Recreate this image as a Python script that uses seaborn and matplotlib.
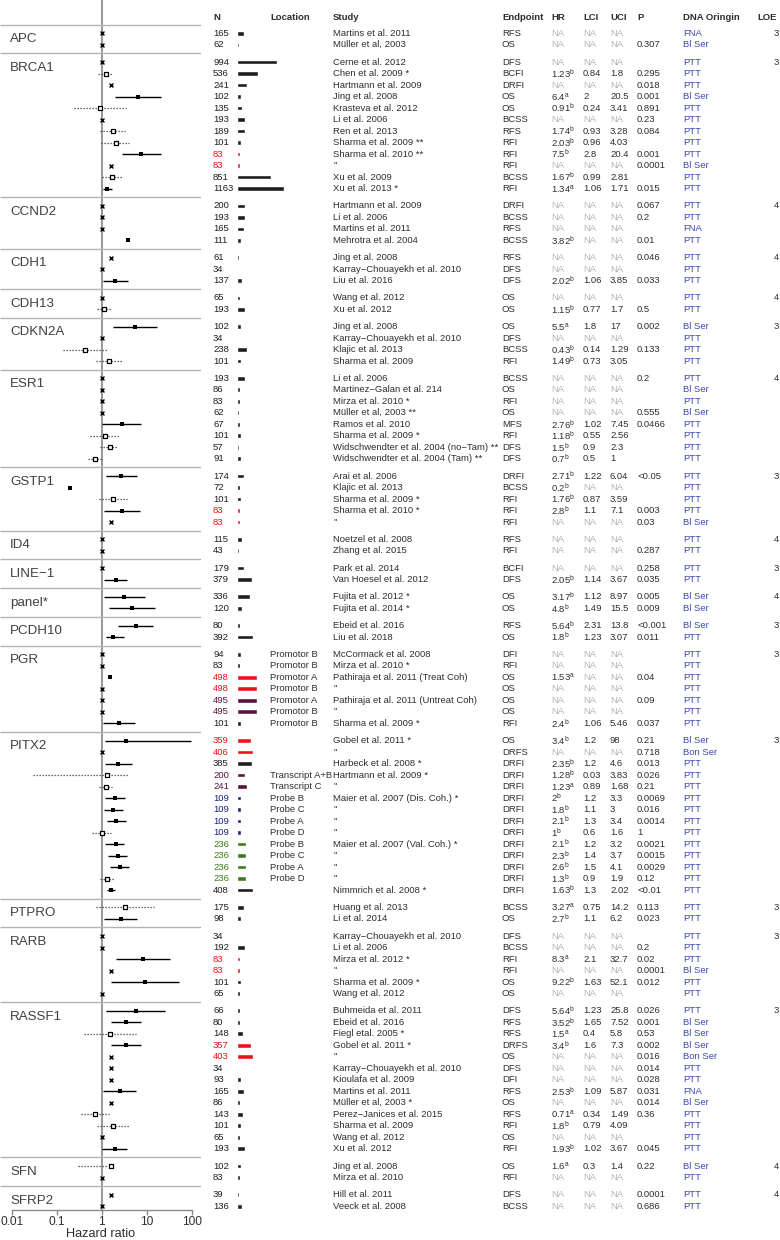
import numpy as np
import pandas as pd
import matplotlib
matplotlib.use('Agg')
import matplotlib.pyplot as plt
from matplotlib.ticker import NullLocator
import seaborn as sns

# ---- data -------------------------------------------------------------
genes = ['APC', 'BRCA1', 'CCND2', 'CDH1', 'CDH13', 'CDKN2A', 'ESR1', 'GSTP1', 'ID4',
         'LINE\u22121', 'panel*', 'PCDH10', 'PGR', 'PITX2', 'PTPRO', 'RARB', 'RASSF1',
         'SFN', 'SFRP2']
group_sizes = [2, 12, 4, 3, 2, 4, 8, 5, 2, 2, 2, 2, 7, 14, 2, 6, 13, 2, 2]
loe = [3, 3, 4, 4, 4, 3, 4, 3, 4, 3, 4, 3, 3, 3, 3, 3, 3, 4, 4]

n_pat = [165, 62,
         994, 536, 241, 102, 135, 193, 189, 101, 83, 83, 851, 1163,
         200, 193, 165, 111,
         61, 34, 137,
         65, 193,
         102, 34, 238, 101,
         193, 86, 83, 62, 67, 101, 57, 91,
         174, 72, 101, 83, 83,
         115, 43,
         179, 379,
         336, 120,
         80, 392,
         94, 83, 498, 498, 495, 495, 101,
         359, 406, 385, 200, 241, 109, 109, 109, 109, 236, 236, 236, 236, 408,
         175, 98,
         34, 192, 83, 83, 101, 65,
         66, 80, 148, 357, 403, 34, 93, 165, 86, 143, 101, 65, 193,
         102, 83,
         39, 136]

# cohort colour key per row (k = none, r/p/b/g = cohorts)
cohort = (['k'] * 2 +
          ['k'] * 8 + ['r', 'r', 'k', 'k'] +
          ['k'] * 4 + ['k'] * 3 + ['k'] * 2 + ['k'] * 4 + ['k'] * 8 +
          ['k', 'k', 'k', 'r', 'r'] +
          ['k'] * 8 +
          ['k', 'k', 'r', 'r', 'p', 'p', 'k'] +
          ['r', 'r', 'k', 'p', 'p', 'b', 'b', 'b', 'b', 'g', 'g', 'g', 'g', 'k'] +
          ['k'] * 2 +
          ['k', 'k', 'r', 'r', 'k', 'k'] +
          ['k', 'k', 'k', 'r', 'r'] + ['k'] * 8 +
          ['k'] * 4)

location = ([''] * 48 +
            ['Promotor B', 'Promotor B', 'Promotor A', 'Promotor B', 'Promotor A',
             'Promotor B', 'Promotor B'] +
            ['', '', '', 'Transcript A+B', 'Transcript C', 'Probe B', 'Probe C',
             'Probe A', 'Probe D', 'Probe B', 'Probe C', 'Probe A', 'Probe D', ''] +
            [''] * 25)

M = '\u2212'
study = [
    'Martins et al. 2011', 'M\u00fcller et al, 2003',
    'Cerne et al. 2012', 'Chen et al. 2009 *', 'Hartmann et al. 2009', 'Jing et al. 2008',
    'Krasteva et al. 2012', 'Li et al. 2006', 'Ren et al. 2013', 'Sharma et al. 2009 **',
    'Sharma et al. 2010 **', '"', 'Xu et al. 2009', 'Xu et al. 2013 *',
    'Hartmann et al. 2009', 'Li et al. 2006', 'Martins et al. 2011', 'Mehrotra et al. 2004',
    'Jing et al. 2008', f'Karray{M}Chouayekh et al. 2010', 'Liu et al. 2016',
    'Wang et al. 2012', 'Xu et al. 2012',
    'Jing et al. 2008', f'Karray{M}Chouayekh et al. 2010', 'Klajic et al. 2013', 'Sharma et al. 2009',
    'Li et al. 2006', f'Martinez{M}Galan et al. 214', 'Mirza et al. 2010 *',
    'M\u00fcller et al, 2003 **', 'Ramos et al. 2010', 'Sharma et al. 2009 *',
    f'Widschwendter et al. 2004 (no{M}Tam) **', 'Widschwendter et al. 2004 (Tam) **',
    'Arai et al. 2006', 'Klajic et al. 2013', 'Sharma et al. 2009 *', 'Sharma et al. 2010 *', '"',
    'Noetzel et al. 2008', 'Zhang et al. 2015',
    'Park et al. 2014', 'Van Hoesel et al. 2012',
    'Fujita et al. 2012 *', 'Fujita et al. 2014 *',
    'Ebeid et al. 2016', 'Liu et al. 2018',
    'McCormack et al. 2008', 'Mirza et al. 2010 *', 'Pathiraja et al. 2011 (Treat Coh)', '"',
    'Pathiraja et al. 2011 (Untreat Coh)', '"', 'Sharma et al. 2009 *',
    'Gobel et al. 2011 *', '"', 'Harbeck et al. 2008 *', 'Hartmann et al. 2009 *', '"',
    'Maier et al. 2007 (Dis. Coh.) *', '"', '"', '"', 'Maier et al. 2007 (Val. Coh.) *',
    '"', '"', '"', 'Nimmrich et al. 2008 *',
    'Huang et al. 2013', 'Li et al. 2014',
    f'Karray{M}Chouayekh et al. 2010', 'Li et al. 2006', 'Mirza et al. 2012 *', '"',
    'Sharma et al. 2009 *', 'Wang et al. 2012',
    'Buhmeida et al. 2011', 'Ebeid et al. 2016', 'Fiegl etal. 2005 *', 'Gobel et al. 2011 *', '"',
    f'Karray{M}Chouayekh et al. 2010', 'Kioulafa et al. 2009', 'Martins et al. 2011',
    'M\u00fcller et al, 2003 *', f'Perez{M}Janices et al. 2015', 'Sharma et al. 2009',
    'Wang et al. 2012', 'Xu et al. 2012',
    'Jing et al. 2008', 'Mirza et al. 2010',
    'Hill et al. 2011', 'Veeck et al. 2008',
]

endpoint = [
    'RFS', 'OS',
    'DFS', 'BCFI', 'DRFI', 'OS', 'OS', 'BCSS', 'RFS', 'RFI', 'RFI', 'RFI', 'BCSS', 'RFI',
    'DRFI', 'BCSS', 'RFS', 'BCSS',
    'RFS', 'DFS', 'DFS',
    'OS', 'OS',
    'OS', 'DFS', 'BCSS', 'RFI',
    'BCSS', 'OS', 'RFI', 'OS', 'MFS', 'RFI', 'DFS', 'DFS',
    'DRFI', 'BCSS', 'RFI', 'RFI', 'RFI',
    'RFS', 'RFI',
    'BCFI', 'DFS',
    'OS', 'OS',
    'RFS', 'OS',
    'DFI', 'RFI', 'OS', 'OS', 'OS', 'OS', 'RFI',
    'OS', 'DRFS'] + ['DRFI'] * 12 + [
    'BCSS', 'OS',
    'DFS', 'BCSS', 'RFI', 'RFI', 'OS', 'OS',
    'DFS', 'RFS', 'RFS', 'DRFS', 'OS', 'DFS', 'DFI', 'RFS', 'OS', 'RFS', 'RFI', 'OS', 'RFI',
    'OS', 'RFI',
    'DFS', 'BCSS',
]

N = None
hr = [N, N,
      N, 1.23, N, 6.4, 0.91, N, 1.74, 2.03, 7.5, N, 1.67, 1.34,
      N, N, N, 3.82,
      N, N, 2.02,
      N, 1.15,
      5.5, N, 0.43, 1.49,
      N, N, N, N, 2.76, 1.18, 1.5, 0.7,
      2.71, 0.2, 1.76, 2.8, N,
      N, N,
      N, 2.05,
      3.17, 4.8,
      5.64, 1.8,
      N, N, 1.53, N, N, N, 2.4,
      3.4, N, 2.35, 1.28, 1.23, 2, 1.8, 2.1, 1, 2.1, 2.3, 2.6, 1.3, 1.63,
      3.27, 2.7,
      N, N, 8.3, N, 9.22, N,
      5.64, 3.52, 1.5, 3.4, N, N, N, 2.53, N, 0.71, 1.8, N, 1.93,
      1.6, N,
      N, N]

hr_sup = ['', '',
          '', 'b', '', 'a', 'b', '', 'b', 'b', 'b', '', 'b', 'a',
          '', '', '', 'b',
          '', '', 'b',
          '', 'b',
          'a', '', 'b', 'b',
          '', '', '', '', 'b', 'b', 'b', 'b',
          'b', 'b', 'b', 'b', '',
          '', '',
          '', 'b',
          'b', 'b',
          'b', 'b',
          '', '', 'a', '', '', '', 'b',
          'b', '', 'b', 'b', 'a', 'b', 'b', 'b', 'b', 'b', 'b', 'b', 'b', 'b',
          'a', 'b',
          '', '', 'a', '', 'b', '',
          'b', 'b', 'a', 'b', '', '', '', 'b', '', 'a', 'b', '', 'b',
          'a', '',
          '', '']

lci = [N, N,
       N, 0.84, N, 2, 0.24, N, 0.93, 0.96, 2.8, N, 0.99, 1.06,
       N, N, N, N,
       N, N, 1.06,
       N, 0.77,
       1.8, N, 0.14, 0.73,
       N, N, N, N, 1.02, 0.55, 0.9, 0.5,
       1.22, N, 0.87, 1.1, N,
       N, N,
       N, 1.14,
       1.12, 1.49,
       2.31, 1.23,
       N, N, N, N, N, N, 1.06,
       1.2, N, 1.2, 0.03, 0.89, 1.2, 1.1, 1.3, 0.6, 1.2, 1.4, 1.5, 0.9, 1.3,
       0.75, 1.1,
       N, N, 2.1, N, 1.63, N,
       1.23, 1.65, 0.4, 1.6, N, N, N, 1.09, N, 0.34, 0.79, N, 1.02,
       0.3, N,
       N, N]

uci = [N, N,
       N, 1.8, N, 20.5, 3.41, N, 3.28, 4.03, 20.4, N, 2.81, 1.71,
       N, N, N, N,
       N, N, 3.85,
       N, 1.7,
       17, N, 1.29, 3.05,
       N, N, N, N, 7.45, 2.56, 2.3, 1,
       6.04, N, 3.59, 7.1, N,
       N, N,
       N, 3.67,
       8.97, 15.5,
       13.8, 3.07,
       N, N, N, N, N, N, 5.46,
       98, N, 4.6, 3.83, 1.68, 3.3, 3, 3.4, 1.6, 3.2, 3.7, 4.1, 1.9, 2.02,
       14.2, 6.2,
       N, N, 32.7, N, 52.1, N,
       25.8, 7.52, 5.8, 7.3, N, N, N, 5.87, N, 1.49, 4.09, N, 3.67,
       1.4, N,
       N, N]

p_val = ['', '0.307',
         '', '0.295', '0.018', '0.001', '0.891', '0.23', '0.084', '', '0.001', '0.0001', '', '0.015',
         '0.067', '0.2', '', '0.01',
         '0.046', '', '0.033',
         '', '0.5',
         '0.002', '', '0.133', '',
         '0.2', '', '', '0.555', '0.0466', '', '', '',
         '<0.05', '', '', '0.003', '0.03',
         '', '0.287',
         '0.258', '0.035',
         '0.005', '0.009',
         '<0.001', '0.011',
         '', '', '0.04', '', '0.09', '', '0.037',
         '0.21', '0.718', '0.013', '0.026', '0.21', '0.0069', '0.016', '0.0014', '1',
         '0.0021', '0.0015', '0.0029', '0.12', '<0.01',
         '0.113', '0.023',
         '', '0.2', '0.02', '0.0001', '0.012', '',
         '0.026', '0.001', '0.53', '0.002', '0.016', '0.014', '0.028', '0.031', '0.014',
         '0.36', '', '', '0.045',
         '0.22', '',
         '0.0001', '0.686']

dna = ['FNA', 'Bl Ser',
       'PTT', 'PTT', 'PTT', 'Bl Ser', 'PTT', 'PTT', 'PTT', 'PTT', 'PTT', 'Bl Ser', 'PTT', 'PTT',
       'PTT', 'PTT', 'FNA', 'PTT',
       'PTT', 'PTT', 'PTT',
       'PTT', 'PTT',
       'Bl Ser', 'PTT', 'PTT', 'PTT',
       'PTT', 'Bl Ser', 'PTT', 'Bl Ser', 'PTT', 'PTT', 'PTT', 'PTT',
       'PTT', 'PTT', 'PTT', 'PTT', 'Bl Ser',
       'PTT', 'PTT',
       'PTT', 'PTT',
       'Bl Ser', 'Bl Ser',
       'Bl Ser', 'PTT',
       'PTT', 'PTT', 'PTT', 'PTT', 'PTT', 'PTT', 'PTT',
       'Bl Ser', 'Bon Ser'] + ['PTT'] * 12 + [
       'PTT', 'PTT',
       'PTT', 'PTT', 'PTT', 'Bl Ser', 'PTT', 'PTT',
       'PTT', 'Bl Ser', 'Bl Ser', 'Bl Ser', 'Bon Ser', 'PTT', 'PTT', 'FNA', 'Bl Ser',
       'PTT', 'PTT', 'PTT', 'PTT',
       'Bl Ser', 'PTT',
       'PTT', 'PTT']

headers = ['N', 'Location', 'Study', 'Endpoint', 'HR', 'LCI', 'UCI', 'P', 'DNA Oringin', 'LOE']
tick_vals = [0.01, 0.1, 1, 10, 100]
tick_labels = ['0.01', '0.1', '1', '10', '100']

# ---- styling ----------------------------------------------------------
cohort_col = {'k': '#1e1e1e', 'r': '#e8141c', 'p': '#5a1240', 'b': '#1c2278', 'g': '#3d7a1c'}
TXT = '#2e2e2e'
NA_COL = '#b4b4b4'
BLUE = '#3b4aae'
FS = 6.8

sns.set_theme(style='white')
plt.rcParams['font.family'] = ['Liberation Sans', 'DejaVu Sans']
plt.rcParams['mathtext.fontset'] = 'custom'
plt.rcParams['mathtext.rm'] = 'Liberation Sans'

W, H = 780, 1240
ROW0, ROWH, AXIS_Y = 33.3, 11.5, 1210
u_top = -ROW0 / ROWH
u_bot = (AXIS_Y - ROW0) / ROWH

gene_idx = np.repeat(np.arange(len(genes)), group_sizes)
ypos = np.arange(len(n_pat)) + 0.5 * gene_idx
first = np.cumsum([0] + group_sizes[:-1])

fig = plt.figure(figsize=(W / 100, H / 100), dpi=100)
ax = fig.add_axes([0, 1 - AXIS_Y / H, 201 / W, AXIS_Y / H])
axt = fig.add_axes([201 / W, 1 - AXIS_Y / H, 579 / W, AXIS_Y / H])

# ---- forest plot ------------------------------------------------------
X_ONE, DEC = 101.7, 45.0   # pixel position of HR=1 and width of one decade
ax.set_xscale('log')
ax.set_xlim(10 ** (-X_ONE / DEC), 10 ** ((201 - X_ONE) / DEC))
ax.set_ylim(u_bot, u_top)
for s in ['top', 'left', 'right']:
    ax.spines[s].set_visible(False)
ax.spines['bottom'].set_bounds(0.01, 100)
ax.spines['bottom'].set_color('#8a8a8a')
ax.spines['bottom'].set_linewidth(1)
ax.set_xticks(tick_vals)
ax.set_xticklabels(tick_labels)
ax.xaxis.set_minor_locator(NullLocator())
ax.set_yticks([])
ax.tick_params(axis='x', bottom=True, length=3.5, width=1, color='#8a8a8a',
               labelsize=8.6, labelcolor=TXT, pad=1)
ax.axvline(1, color='#8f8f8f', lw=1.3, zorder=1)
ax.hlines(ypos[first] - 0.75, *ax.get_xlim(), color='#b3b3b3', lw=1, zorder=1)

for g, i0 in enumerate(first):
    ax.text(10 / 201, ypos[i0] + 0.5, genes[g], transform=ax.get_yaxis_transform(),
            fontsize=9.6, color='#404040', va='center', ha='left')


def p_sig(p):
    if not p:
        return False
    if p.startswith('<'):
        return True
    return float(p) < 0.05


rows = []
for i in range(len(n_pat)):
    if hr[i] is None:
        kind, x = 'na', (1.6 if p_sig(p_val[i]) else 1.0)
    elif lci[i] is None:
        kind, x = 'filled', hr[i]
    elif lci[i] > 1 or uci[i] < 1:
        kind, x = 'filled', hr[i]
        ax.hlines(ypos[i], lci[i], uci[i], color='black', lw=1.0, zorder=2)
    else:
        kind, x = 'open', hr[i]
        ax.hlines(ypos[i], lci[i], uci[i], color='#3a3a3a', lw=0.9,
                  linestyles=(0, (1, 1.4)), zorder=2)
    rows.append({'x': x, 'y': ypos[i], 'kind': kind})
df = pd.DataFrame(rows)

sns.scatterplot(data=df[df.kind == 'filled'], x='x', y='y', marker='s', s=8,
                color='black', linewidth=0, ax=ax, zorder=3, legend=False)
sns.scatterplot(data=df[df.kind == 'open'], x='x', y='y', marker='s', s=7,
                facecolor='white', edgecolor='black', linewidth=0.9, ax=ax, zorder=3,
                legend=False)
sns.scatterplot(data=df[df.kind == 'na'], x='x', y='y', marker='x', s=8,
                color='black', linewidth=1.0, ax=ax, zorder=3, legend=False)
ax.set_xlabel('Hazard ratio', fontsize=9.2, color=TXT, labelpad=0)
ax.set_ylabel('')

# ---- table ------------------------------------------------------------
axt.set_xlim(201, 780)
axt.set_ylim(u_bot, u_top)
axt.axis('off')

col_x = [213, 270, 333, 502, 551, 583, 610, 637, 683, 757]
for hx, h in zip(col_x, headers):
    axt.text(hx, -1.4, h, fontsize=FS, fontweight='bold', color=TXT, va='center')

bar_cols = [cohort_col[c] for c in cohort]
axt.barh(ypos, np.array(n_pat) * 0.04, left=237, height=0.4, color=bar_cols)


def fmt(v):
    return 'NA' if v is None else f'{v:g}'


for i, y in enumerate(ypos):
    axt.text(213, y, str(n_pat[i]), fontsize=FS, color=bar_cols[i], va='center')
    if location[i]:
        axt.text(270, y, location[i], fontsize=FS, color=TXT, va='center')
    axt.text(333, y, study[i], fontsize=FS, color=TXT, va='center')
    axt.text(502, y, endpoint[i], fontsize=FS, color=TXT, va='center')
    if hr[i] is None:
        axt.text(551, y, 'NA', fontsize=FS, color=NA_COL, va='center')
    else:
        axt.text(551, y, fmt(hr[i]) + r'$^{\mathrm{' + hr_sup[i] + '}}$',
                 fontsize=FS, color=TXT, va='center')
    axt.text(583, y, fmt(lci[i]), fontsize=FS,
             color=NA_COL if lci[i] is None else TXT, va='center')
    axt.text(610, y, fmt(uci[i]), fontsize=FS,
             color=NA_COL if uci[i] is None else TXT, va='center')
    if p_val[i]:
        axt.text(637, y, p_val[i], fontsize=FS, color=TXT, va='center')
    axt.text(683, y, dna[i], fontsize=FS, color=BLUE, va='center')

for g, i0 in enumerate(first):
    axt.text(779, ypos[i0], str(loe[g]), fontsize=FS, color=TXT, va='center', ha='right')

fig.savefig('out.png', dpi=100)
